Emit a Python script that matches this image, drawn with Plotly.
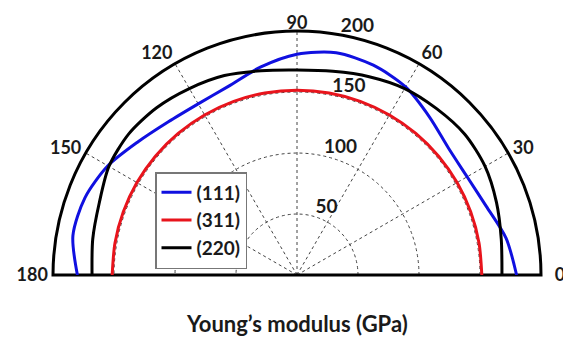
import plotly.graph_objects as go

# angles (degrees) at which the curves were read
angles = [0, 10, 20, 30, 40, 50, 60, 70, 80, 90, 100, 110, 120, 130, 140, 150, 160, 170, 180]

# Young's modulus (GPa) for each orientation
e_111 = [180, 174, 165, 161, 162, 169, 178, 183, 185, 181, 173, 164.5, 162, 164, 170, 179, 185, 186.5, 180]
e_311 = [151.5, 151.5, 151.5, 151.5, 151.5, 151.5, 151.5, 151.5, 151.5, 151.5, 151.5, 151.5, 151.5, 151.5, 151.5, 151.5, 151.5, 151.5, 151.5]
e_220 = [168, 170, 174, 178, 179.5, 178, 176.5, 173, 169.5, 168, 170, 174, 176.5, 179, 180, 178, 172.5, 170, 168]

series_names = ["(111)", "(311)", "(220)"]
series_colors = ["#1010e0", "#e8141c", "#000000"]

angle_ticks = [0, 30, 60, 90, 120, 150, 180]
angle_labels = ["\u00a0\u00a00", "30", "60",
                "<span style='baseline-shift:-7px'>90</span>", "120", "150", "180"]
radial_ticks = [50, 100, 150, 200]
radial_labels = ["50", "100", "150", "200"]

FONT = "Lato"
W, H = 571, 341
# page offset of the plot div (body margin) in px
OFF = 8
CX, CY, R = 297 - OFF, 275 - OFF, 244

fig = go.Figure()
for name, vals, col in zip(series_names, [e_111, e_311, e_220], series_colors):
    fig.add_trace(go.Scatterpolar(
        r=vals, theta=angles, mode="lines", name=name,
        line=dict(color=col, width=3, shape="spline", smoothing=0.8),
    ))

fig.update_layout(
    width=W, height=H,
    margin=dict(l=0, r=0, t=0, b=0),
    paper_bgcolor="white",
    font=dict(family=FONT, size=16, color="#1a1a1a", weight="bold"),
    polar=dict(
        domain=dict(x=[(CX - R) / W, (CX + R) / W], y=[(H - CY) / H, (H - CY + R) / H]),
        sector=[0, 180],
        bgcolor="white",
        angularaxis=dict(
            rotation=0, direction="counterclockwise",
            tickmode="array", tickvals=angle_ticks, ticktext=angle_labels,
            ticks="", ticklen=0, showline=True, linecolor="black", linewidth=3,
            showgrid=True, gridcolor="#444444", gridwidth=1, griddash="dot",
            layer="below traces",
            tickfont=dict(family=FONT, size=18, color="#1a1a1a", weight="bold"),
        ),
        radialaxis=dict(
            range=[0, 200], tickmode="array", tickvals=radial_ticks,
            ticktext=[t + "<br>\u00a0" for t in radial_labels],
            angle=82, tickangle=82, side="clockwise",
            showline=False, ticks="",
            showgrid=True, gridcolor="#444444", gridwidth=1, griddash="dot",
            layer="below traces",
            tickfont=dict(family=FONT, size=19, color="#1a1a1a", weight="bold"),
        ),
    ),
    legend=dict(
        x=(155 - OFF) / W, y=1 - (172 - OFF) / H, xanchor="left", yanchor="top",
        bgcolor="white", bordercolor="#777777", borderwidth=1.5,
        font=dict(family=FONT, size=19, color="#1a1a1a", weight="bold"),
        itemwidth=30, tracegroupgap=0,
    ),
    showlegend=True,
    annotations=[dict(
        text="Young’s modulus (GPa)", x=(297 - OFF) / W, y=1 - (323 - OFF) / H,
        xref="paper", yref="paper", xanchor="center", yanchor="middle",
        showarrow=False,
        font=dict(family=FONT, size=22, color="#1a1a1a", weight="bold"),
    )],
)

fig.write_html("out.html")
